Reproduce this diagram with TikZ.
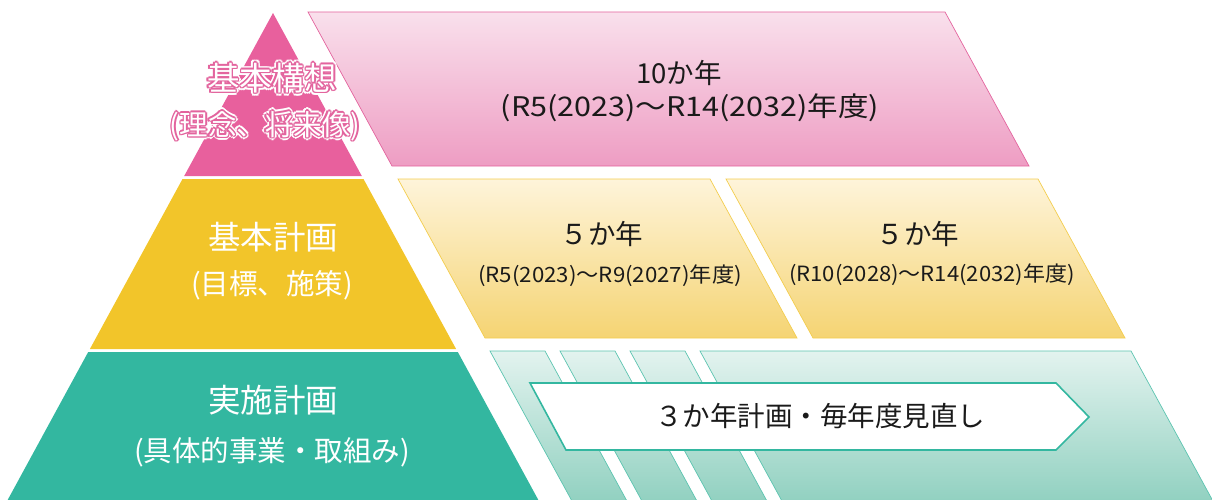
\documentclass[tikz,border=0pt]{standalone}
\usepackage{fontspec}
\setmainfont{Noto Sans CJK JP}
\usetikzlibrary{calc}
\definecolor{pk}{HTML}{E8609D}
\definecolor{pkline}{HTML}{E3649E}
\definecolor{pktop}{HTML}{F9E0EC}
\definecolor{pkbot}{HTML}{EE9DC3}
\definecolor{yl}{HTML}{F2C52A}
\definecolor{ylline}{HTML}{F3CD4E}
\definecolor{yltop}{HTML}{FEF4DA}
\definecolor{ylbot}{HTML}{F5D473}
\definecolor{gr}{HTML}{33B7A0}
\definecolor{grline}{HTML}{5CC4B0}
\definecolor{grtop}{HTML}{E3F3EF}
\definecolor{grbot}{HTML}{8DCFBE}
\definecolor{txt}{HTML}{1A1A1A}
\tikzset{
  lvl/.style={inner sep=0pt, text=white, font=\fontsize{32.5}{38}\selectfont},
  lvlsub/.style={inner sep=0pt, text=white, font=\fontsize{28.5}{34}\selectfont},
  head/.style={inner sep=0pt, text=txt, font=\fontsize{27.5}{32}\selectfont},
  yrbig/.style={inner sep=0pt, text=txt, font=\fontsize{27}{32}\selectfont},
  yrsmall/.style={inner sep=0pt, text=txt, font=\fontsize{21}{26}\selectfont},
  pband/.style={draw=pkline, line width=0.7pt, top color=pktop, bottom color=pkbot},
  yband/.style={draw=ylline, line width=0.7pt, top color=yltop, bottom color=ylbot},
  gband/.style={draw=grline, line width=0.7pt, top color=grtop, bottom color=grbot},
}
\begin{document}
\begin{tikzpicture}[x=1pt, y=-1pt]
\useasboundingbox (0,0) rectangle (1212,500);
\begin{scope}
\clip (0,0) rectangle (1212,500);
% pyramid
\fill[pk] (273,13) -- (361.8,176) -- (184.2,176) -- cycle;
\fill[yl] (182.5,179) -- (363.5,179) -- (456.1,349) -- (89.9,349) -- cycle;
\fill[gr] (88.2,352) -- (457.8,352) -- (540,503) -- (6,503) -- cycle;
% pink band
\path[pband] (308,12) -- (945,12) -- (1029,166) -- (392,166) -- cycle;
% yellow bands
\path[yband] (398,179) -- (710,179) -- (797,338) -- (485,338) -- cycle;
\path[yband] (726,179) -- (1038,179) -- (1125,338) -- (813,338) -- cycle;
% green strips
\path[gband] (490,351) -- (545,351) -- (631.3,509) -- (576.3,509) -- cycle;
\path[gband] (560,351) -- (615,351) -- (701.3,509) -- (646.3,509) -- cycle;
\path[gband] (630,351) -- (685,351) -- (771.3,509) -- (716.3,509) -- cycle;
\path[gband] (700,351) -- (1131,351) -- (1217.3,509) -- (786.3,509) -- cycle;
\end{scope}
% arrow
\draw[gr, line width=1.6pt, fill=white, line join=miter]
  (530,383) -- (1056,383) -- (1089,417) -- (1056,450) -- (566,450) -- cycle;
\node[head] (arr) at (820,416) {３か年計画・毎年度見直し};
% pink band text
\node[head] (p1) at (679,73) {10か年};
\node[yrbig] (p2) at (690,108) {\scalebox{1.13}[1]{(R5(2023)〜R14(2032)年度)}};
% yellow texts
\node[head] (y1) at (602,234) {５か年};
\node[yrsmall] (y2) at (610,276) {\scalebox{1.06}[1]{(R5(2023)〜R9(2027)年度)}};
\node[head] (y3) at (918,234) {５か年};
\node[yrsmall] (y4) at (932,275) {\scalebox{1.05}[1]{(R10(2028)〜R14(2032)年度)}};
% pyramid texts with halo for top
\foreach \ang in {0,30,...,330}{
  \node[lvl] at ([shift={(\ang:3.2)}]272,78) {基本構想};
  \node[lvlsub] at ([shift={(\ang:3.2)}]265,126) {(理念、将来像)};
}
\foreach \ang in {0,45,...,315}{
  \node[lvl, text=pkline] at ([shift={(\ang:1.5)}]272,78) {基本構想};
  \node[lvlsub, text=pkline] at ([shift={(\ang:1.5)}]265,126) {(理念、将来像)};
}
\node[lvl] (a1) at (272,78) {基本構想};
\node[lvlsub] (a2) at (265,126) {(理念、将来像)};
\node[lvl] (b1) at (273,237) {基本計画};
\node[lvlsub] (b2) at (272,285) {(目標、施策)};
\node[lvl] (c1) at (273,400) {実施計画};
\node[lvlsub] (c2) at (272,452) {(具体的事業・取組み)};
\end{tikzpicture}
\end{document}
